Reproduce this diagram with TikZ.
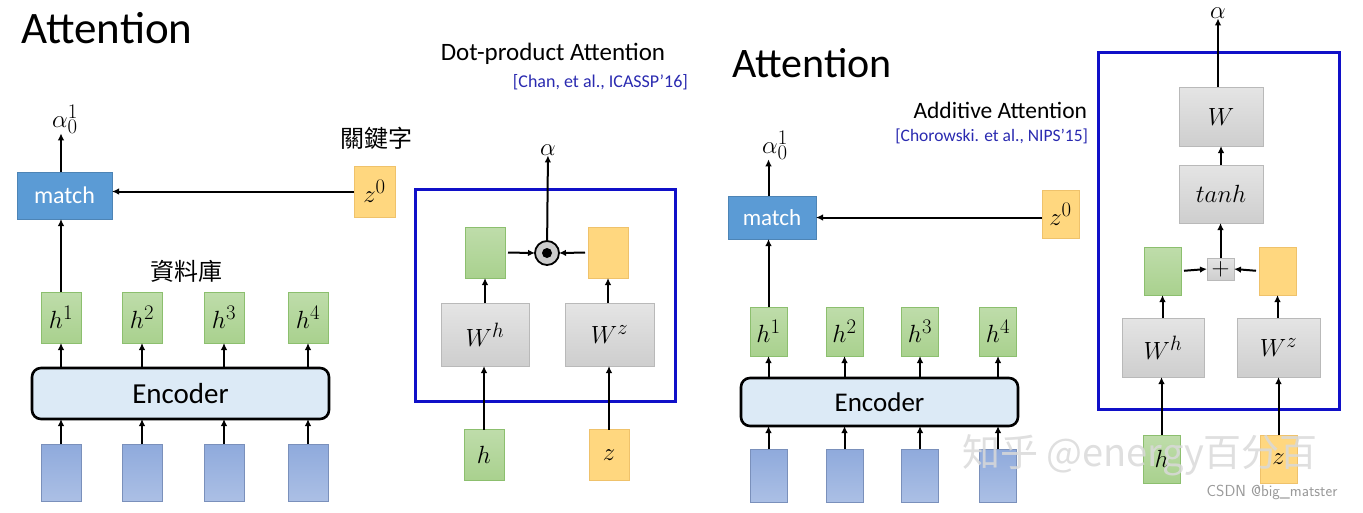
\documentclass[tikz,border=0pt]{standalone}
\usepackage{fontspec}
\setmainfont{Carlito}
\newfontfamily\cjk{Noto Sans CJK TC}
\newfontfamily\cjksc{Noto Sans CJK SC}
\usetikzlibrary{arrows.meta}

\definecolor{matchblue}{HTML}{5B9BD5}
\definecolor{hgreen}{HTML}{A9D18E}
\definecolor{hgreenline}{HTML}{8CBF6E}
\definecolor{zorange}{HTML}{FFD77F}
\definecolor{zorangeline}{HTML}{EFC26B}
\definecolor{wgray}{HTML}{D9D9D9}
\definecolor{inblue}{HTML}{8FAADC}
\definecolor{encfill}{HTML}{DCEAF6}
\definecolor{frameblue}{HTML}{1010C8}
\definecolor{citeblue}{HTML}{2A2AB0}

\newcommand{\mfont}{\fontsize{30}{34}\selectfont}

\begin{document}
\begin{tikzpicture}[x=1pt,y=-1pt,
  every node/.style={inner sep=0pt,outer sep=0pt},
  hbox/.style={draw=hgreenline,top color=hgreen!75!white,bottom color=hgreen,line width=0.8pt,minimum width=#1,minimum height=51,font=\mfont},
  hbox/.default=40,
  zbox/.style={draw=zorangeline,fill=zorange,line width=0.8pt,minimum width=#1,minimum height=51,font=\mfont},
  zbox/.default=40,
  wbox/.style={draw=gray!55,top color=wgray!70!white,bottom color=wgray!95!black,line width=0.8pt,font=\mfont},
  inbox/.style={draw=inblue!85!black,top color=inblue,bottom color=inblue!75!white,line width=0.8pt,minimum width=#1},
  inbox/.default=40,
  matchbox/.style={draw=matchblue!85!black,fill=matchblue,text=white,line width=0.8pt},
  encbox/.style={draw=black,fill=encfill,line width=2.6pt,rounded corners=9pt},
  frame/.style={draw=frameblue,line width=3pt},
  arr/.style={line width=2pt,-{Latex[length=7pt,width=6.5pt]}},
  ttl/.style={font=\fontsize{45}{50}\selectfont},
  cite/.style={text=citeblue,font=\fontsize{18}{22}\selectfont}]
\useasboundingbox (0,0) rectangle (1363,512);

%left panel
\node[ttl] (title1) at (107,28) {Attention};
\node[font=\mfont] (alpha1) at (65,119) {$\alpha_0^1$};
\node[matchbox,minimum width=95,minimum height=47,font=\fontsize{24}{28}\selectfont] (match1) at (64.5,195.5) {match};
\node[font=\cjk\fontsize{24}{28}\selectfont] (key1) at (376,138) {關鍵字};
\node[zbox=41] (z01) at (374.5,191.5) {$z^0$};
\node[font=\cjk\fontsize{24}{28}\selectfont] (db1) at (186,271) {資料庫};
\node[encbox,minimum width=297,minimum height=51,font=\fontsize{29}{32}\selectfont] (enc1) at (180.5,393.5) {Encoder};
\foreach \x/\i in {61/1,142/2,224/3,308/4}{
  \node[hbox] (h1\i) at (\x,317.5) {$h^{\i}$};
  \node[inbox,minimum height=57] (in1\i) at (\x,472.5) {};
  \draw[arr] (h1\i.south |- enc1.north) -- (h1\i.south);
  \draw[arr] (in1\i.north) -- (in1\i.north |- enc1.south);
}
\draw[arr] (match1.north -| h11) -- (alpha1.south -| h11);
\draw[arr] (z01.west) -- (match1.east |- z01.west);
\draw[arr] (h11.north) -- (h11.north |- match1.south);

%dot-product attention
\node[font=\fontsize{25}{28}\selectfont] (dptitle) at (553,54) {Dot-product Attention};
\node[cite,anchor=east] (dpcite) at (688,82) {[Chan, et al., ICASSP’16]};
\draw[frame] (415,189) rectangle (675,401);
\node[font=\mfont] (alpha2) at (548,150) {$\alpha$};
\node[circle,draw=black,fill=gray!40,line width=1.8pt,minimum size=24] (dot2) at (547,253) {};
\fill (dot2.center) circle (5);
\node[hbox] (hv2) at (485,252.5) {};
\node[zbox] (zv2) at (608,252.5) {};
\node[wbox,minimum width=88,minimum height=63] (Wh2) at (485,334.5) {$W^h$};
\node[wbox,minimum width=89,minimum height=63] (Wz2) at (609.5,334.5) {$W^z$};
\node[hbox] (hin2) at (484,455) {$h$};
\node[zbox] (zin2) at (609,455) {$z$};
\draw[arr] (dot2) -- (alpha2);
\draw[arr,shorten <=3pt] (hv2.east) -- (dot2.west);
\draw[arr,shorten <=3pt] (zv2.west) -- (dot2.east);
\draw[arr] (Wh2.north) -- (Wh2.north |- hv2.south);
\draw[arr] (Wz2.north -| zv2) -- (zv2.south);
\draw[arr] (hin2.north) -- (hin2.north |- Wh2.south);
\draw[arr] (zin2.north) -- (zin2.north |- Wz2.south);

%right panel
\node[ttl,font=\fontsize{42}{46}\selectfont] (title2) at (812,63) {Attention};
\node[anchor=east,font=\fontsize{23.5}{27}\selectfont] (addtitle) at (1087,110) {Additive Attention};
\node[cite,anchor=east,font=\fontsize{17.5}{21}\selectfont] (addcite) at (1088,136) {[Chorowski. et al., NIPS’15]};
\node[font=\mfont] (alpha3) at (775,145) {$\alpha_0^1$};
\node[matchbox,minimum width=88,minimum height=43,font=\fontsize{23}{27}\selectfont] (match2) at (772,217.5) {match};
\node[zbox=37,minimum height=48] (z02) at (1060.5,214) {$z^0$};
\node[encbox,minimum width=277,minimum height=48,font=\fontsize{27}{30}\selectfont] (enc2) at (879.5,402) {Encoder};
\foreach \x/\i in {768.5/1,844.5/2,920/3,998/4}{
  \node[hbox=37,minimum height=49] (h2\i) at (\x,331.5) {$h^{\i}$};
  \node[inbox=37,minimum height=53] (in2\i) at (\x,475.5) {};
  \draw[arr] (h2\i.south |- enc2.north) -- (h2\i.south);
  \draw[arr] (in2\i.north) -- (in2\i.north |- enc2.south);
}
\draw[arr] (match2.north -| h21) -- (alpha3.south -| h21);
\draw[arr] (z02.west |- match2.east) -- (match2.east);
\draw[arr] (h21.north) -- (h21.north |- match2.south);

%additive attention
\draw[frame] (1098,52) rectangle (1339,409);
\node[font=\mfont] (alpha4) at (1218,13) {$\alpha$};
\node[wbox,minimum width=84,minimum height=59] (W3) at (1221,116.5) {$W$};
\node[wbox,minimum width=84,minimum height=58] (tanh3) at (1221,194) {$tanh$};
\node[wbox,minimum width=27,minimum height=22] (plus3) at (1220.5,269) {$+$};
\node[hbox=37,minimum height=48] (hv3) at (1162.5,271) {};
\node[zbox=37,minimum height=48] (zv3) at (1277.5,271) {};
\node[wbox,minimum width=82,minimum height=59] (Wh3) at (1163,347.5) {$W^h$};
\node[wbox,minimum width=83,minimum height=59] (Wz3) at (1278.5,347.5) {$W^z$};
\node[hbox=37,minimum height=48] (hin3) at (1161.5,459) {$h$};
\node[zbox=37,minimum height=48] (zin3) at (1278.5,459) {$z$};
\draw[arr] (W3.north -| alpha4) -- (alpha4);
\draw[arr] (tanh3.north) -- (W3.south);
\draw[arr] (plus3.north) -- (plus3.north |- tanh3.south);
\draw[arr,shorten <=3pt] (hv3.east) -- (plus3.west);
\draw[arr,shorten <=3pt] (zv3.west) -- (plus3.east);
\draw[arr] (Wh3.north -| hv3) -- (hv3.south);
\draw[arr] (Wz3.north -| zv3) -- (zv3.south);
\draw[arr] (hin3.north) -- (hin3.north |- Wh3.south);
\draw[arr] (zin3.north) -- (zin3.north |- Wz3.south);

%watermarks
\node[text=gray!30,opacity=0.85,font=\cjksc\fontsize{38}{42}\selectfont] (wm1) at (1140,455) {知乎 @energy百分百};
\node[text=gray!80,font=\fontfamily{lmss}\selectfont\fontsize{16}{18}\selectfont] (wm2) at (1272,492) {CSDN @big\_matster};
\end{tikzpicture}
\end{document}
